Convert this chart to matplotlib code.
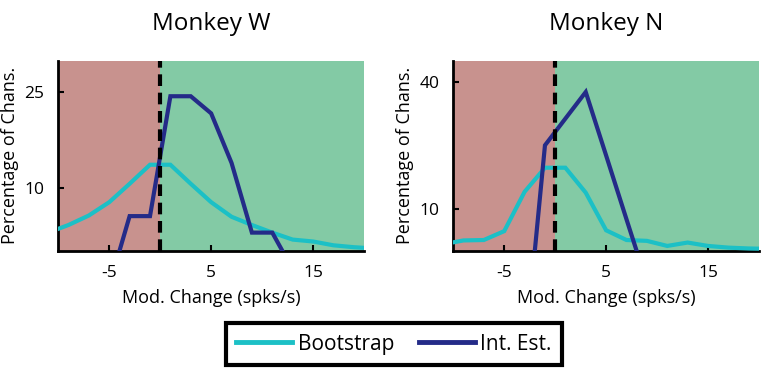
import matplotlib
matplotlib.use("Agg")
import matplotlib.pyplot as plt
from matplotlib.lines import Line2D

plt.rcParams['font.family'] = ['Open Sans', 'DejaVu Sans']
plt.rcParams['axes.unicode_minus'] = False

# ---- data ----
titles = ["Monkey W", "Monkey N"]
boot_x = [-11, -9, -7, -5, -3, -1, 1, 3, 5, 7, 9, 11, 13, 15, 17, 19, 21]
boot_w = [2.9, 4.1, 5.6, 7.7, 10.6, 13.6, 13.6, 10.6, 7.7, 5.4, 4.1, 2.9, 1.8, 1.5, 0.9, 0.6, 0.4]
boot_n = [1.6, 2.5, 2.6, 4.7, 14.0, 19.7, 19.7, 13.8, 4.9, 2.6, 2.4, 1.2, 2.0, 1.2, 0.8, 0.6, 0.5]
int_x_w = [-5, -3, -1, 1, 3, 5, 7, 9, 11, 13]
int_w = [-5.5, 5.5, 5.5, 24.4, 24.4, 21.7, 13.9, 2.9, 2.9, -2.9]
int_x_n = [-3, -1, 1, 3, 5, 7, 9]
int_n = [-25.0, 25.0, 31.3, 37.6, 22.6, 7.5, -7.5]
xticks = [-5, 5, 15]
yticks_w = [10, 25]
yticks_n = [10, 40]
ylims = [(0, 30), (0, 45)]
xlim = (-10, 20)
legend_labels = ["Bootstrap", "Int. Est."]

red_bg = "#C8928E"
green_bg = "#83CAA5"
cyan = "#1CC0C6"
navy = "#242B88"

fig = plt.figure(figsize=(7.65, 3.7), dpi=100)
axes = [fig.add_axes([0.0762, 0.3216, 0.3996, 0.5143]),
        fig.add_axes([0.5925, 0.3216, 0.3996, 0.5143])]

series = [(boot_w, int_x_w, int_w, yticks_w), (boot_n, int_x_n, int_n, yticks_n)]
for ax, title, (bv, ix, iv, yt), yl in zip(axes, titles, series, ylims):
    ax.axvspan(xlim[0], 0, color=red_bg, lw=0, zorder=0)
    ax.axvspan(0, xlim[1], color=green_bg, lw=0, zorder=0)
    ax.plot(boot_x, bv, color=cyan, lw=3, zorder=3, solid_joinstyle='miter')
    ax.plot(ix, iv, color=navy, lw=3, zorder=4, solid_joinstyle='miter')
    ax.axvline(0, color='black', lw=3, ls=(0, (2.8, 1.6)), zorder=5)
    ax.set_xlim(*xlim)
    ax.set_ylim(*yl)
    ax.set_xticks(xticks)
    ax.set_yticks(yt)
    ax.tick_params(direction='in', length=4, width=1.5, labelsize=12.5, pad=10)
    for s in ['top', 'right']:
        ax.spines[s].set_visible(False)
    for s in ['left', 'bottom']:
        ax.spines[s].set_linewidth(2)
    ax.set_title(title, fontsize=17.5, pad=22)
    ax.set_xlabel("Mod. Change (spks/s)", fontsize=13, labelpad=6)
    ax.set_ylabel("Percentage of Chans.", fontsize=13, labelpad=4)

handles = [Line2D([0], [0], color=cyan, lw=3.5), Line2D([0], [0], color=navy, lw=3.5)]
leg = fig.legend(handles, legend_labels, loc='center', bbox_to_anchor=(0.515, 0.07),
                 ncol=2, fontsize=15, frameon=True, fancybox=False, edgecolor='black',
                 framealpha=1, handlelength=2.7, handletextpad=0.25, columnspacing=1.2,
                 borderpad=0.5, borderaxespad=0)
leg.get_frame().set_linewidth(3)

fig.savefig("out.png", dpi=100)
